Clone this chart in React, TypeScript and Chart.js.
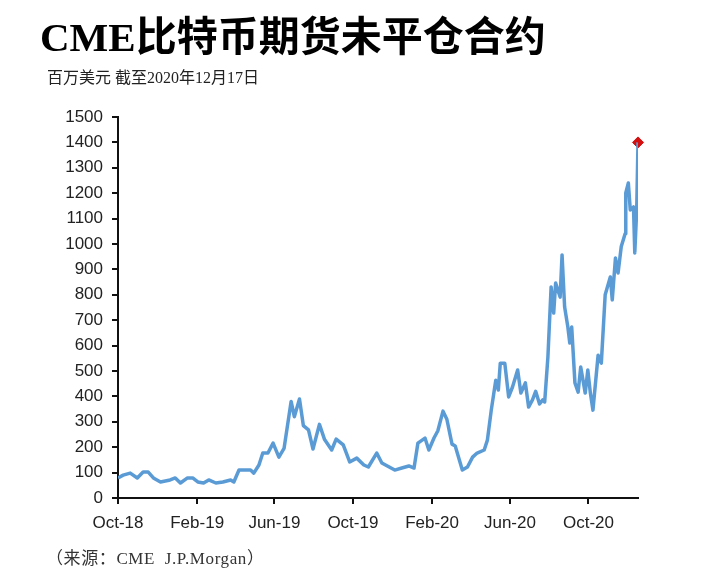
import React, { useEffect, useRef } from "react";
import { Chart, registerables } from "chart.js";

Chart.register(...registerables);

const TITLE = "CME比特币期货未平仓合约";
const SUBTITLE = "百万美元 截至2020年12月17日";
const SOURCE = "（来源：CME  J.P.Morgan）";

const START_DATE = "2018-10-01";
const END_DATE = "2020-12-17";

const tickDates = ["2018-10-01", "2019-02-01", "2019-06-01", "2019-10-01", "2020-02-01", "2020-06-01", "2020-10-01"];
const tickLabels = ["Oct-18", "Feb-19", "Jun-19", "Oct-19", "Feb-20", "Jun-20", "Oct-20"];
const yTicks = [0, 100, 200, 300, 400, 500, 600, 700, 800, 900, 1000, 1100, 1200, 1300, 1400, 1500];

const dates = [
  "2018-10-01", "2018-10-09", "2018-10-20", "2018-10-31", "2018-11-09", "2018-11-17", "2018-11-25",
  "2018-12-06", "2018-12-21", "2018-12-29", "2019-01-06", "2019-01-17", "2019-01-25", "2019-02-02",
  "2019-02-11", "2019-02-19", "2019-03-02", "2019-03-13", "2019-03-25", "2019-03-30", "2019-04-07",
  "2019-04-18", "2019-04-25", "2019-04-30", "2019-05-08", "2019-05-14", "2019-05-22", "2019-05-30",
  "2019-06-08", "2019-06-16", "2019-06-27", "2019-07-02", "2019-07-10", "2019-07-16", "2019-07-24",
  "2019-07-31", "2019-08-10", "2019-08-18", "2019-08-29", "2019-09-05", "2019-09-16", "2019-09-26",
  "2019-10-07", "2019-10-18", "2019-10-25", "2019-11-07", "2019-11-15", "2019-12-05", "2019-12-16",
  "2019-12-27", "2020-01-04", "2020-01-10", "2020-01-21", "2020-01-27", "2020-02-04", "2020-02-10",
  "2020-02-18", "2020-02-24", "2020-03-03", "2020-03-08", "2020-03-19", "2020-03-27", "2020-04-04",
  "2020-04-11", "2020-04-22", "2020-04-27", "2020-05-03", "2020-05-10", "2020-05-14", "2020-05-17",
  "2020-05-24", "2020-05-30", "2020-06-05", "2020-06-13", "2020-06-18", "2020-06-25", "2020-06-30",
  "2020-07-06", "2020-07-11", "2020-07-17", "2020-07-22", "2020-07-25", "2020-07-30", "2020-08-04",
  "2020-08-08", "2020-08-11", "2020-08-18", "2020-08-21", "2020-08-25", "2020-08-30", "2020-09-02",
  "2020-09-05", "2020-09-10", "2020-09-15", "2020-09-19", "2020-09-26", "2020-09-30", "2020-10-04",
  "2020-10-08", "2020-10-16", "2020-10-21", "2020-10-27", "2020-11-04", "2020-11-07", "2020-11-12",
  "2020-11-16", "2020-11-21", "2020-11-27", "2020-11-28", "2020-12-02", "2020-12-05", "2020-12-10",
  "2020-12-12", "2020-12-15", "2020-12-17",
];

const openInterest = [
  79, 90, 98, 79, 102, 102, 79,
  63, 71, 79, 59, 79, 79, 63,
  59, 71, 59, 63, 71, 63, 110,
  110, 110, 98, 130, 177, 177, 216,
  161, 195, 380, 320, 390, 285, 268,
  193, 290, 230, 189, 232, 209, 142,
  157, 130, 122, 177, 138, 110, 118,
  126, 118, 216, 236, 189, 236, 265,
  342, 310, 212, 205, 110, 122, 161,
  177, 189, 228, 346, 464, 425, 531,
  531, 398, 437, 504, 413, 453, 358,
  386, 420, 370, 386, 378, 555, 831,
  728, 846, 791, 957, 752, 673, 610,
  673, 453, 417, 516, 413, 504, 413,
  346, 562, 531, 800, 870, 780, 945,
  886, 990, 1040, 1201, 1240, 1134, 1146,
  965, 1134, 1400,
];

const DAY = 86400000;
const dayOf = (d: string) => Math.round((Date.parse(d) - Date.parse(START_DATE)) / DAY);

export default function App() {
  const ref = useRef<HTMLCanvasElement>(null);

  useEffect(() => {
    const ctx = ref.current!.getContext("2d")!;
    const pts = dates.map((d, i) => ({ x: dayOf(d), y: openInterest[i] }));
    const last = pts[pts.length - 1];
    const tickVals = tickDates.map(dayOf);
    const chart = new Chart(ctx, {
      type: "line",
      data: {
        datasets: [
          {
            data: pts,
            borderColor: "#5b9bd5",
            borderWidth: 3.5,
            pointRadius: 0,
            tension: 0,
            borderJoinStyle: "round",
          },
          {
            data: [last],
            borderColor: "#d40f0f",
            backgroundColor: "#d40f0f",
            pointStyle: "rectRot",
            pointRadius: 5.5,
            showLine: false,
            clip: false,
          },
        ],
      },
      options: {
        animation: false,
        responsive: false,
        events: [],
        layout: { padding: { top: 117, bottom: 40, left: 0, right: 69 } },
        plugins: { legend: { display: false }, tooltip: { enabled: false }, title: { display: false } },
        scales: {
          x: {
            type: "linear",
            min: 0,
            max: dayOf(END_DATE),
            afterBuildTicks: (s: any) => {
              s.ticks = tickVals.map((v) => ({ value: v }));
            },
            afterFit: (s: any) => {
              s.height = 46;
            },
            ticks: {
              autoSkip: false,
              maxRotation: 0,
              padding: 9,
              color: "#222",
              font: { family: "Liberation Sans, Arial, sans-serif", size: 17 },
              callback: (v: any) => {
                const i = tickVals.indexOf(v);
                return i >= 0 ? tickLabels[i] : "";
              },
            },
            grid: { drawOnChartArea: false, drawTicks: true, tickLength: 6, color: "#111", lineWidth: 2 },
            border: { display: true, color: "#111", width: 2 },
          },
          y: {
            min: 0,
            max: 1500,
            afterBuildTicks: (s: any) => {
              s.ticks = yTicks.map((v) => ({ value: v }));
            },
            afterFit: (s: any) => {
              s.width = 118;
            },
            ticks: {
              padding: 9,
              color: "#222",
              font: { family: "Liberation Sans, Arial, sans-serif", size: 17 },
              callback: (v: any) => String(v),
            },
            grid: { drawOnChartArea: false, drawTicks: true, tickLength: 6, color: "#111", lineWidth: 2 },
            border: { display: true, color: "#111", width: 2 },
          },
        },
      },
    });
    return () => chart.destroy();
  }, []);

  return (
    <div style={{ position: "fixed", left: 0, top: 0, width: 707, height: 584, background: "#fff", overflow: "hidden" }}>
      <canvas ref={ref} width={707} height={584} style={{ position: "absolute", left: 0, top: 0 }} />
      <div
        style={{
          position: "absolute",
          left: 40,
          top: 12,
          fontFamily: "'Liberation Serif', 'Noto Sans CJK SC', serif",
          fontWeight: 700,
          fontSize: 41,
          lineHeight: "50px",
          color: "#000",
          whiteSpace: "nowrap",
        }}
      >
        {TITLE}
      </div>
      <div
        style={{
          position: "absolute",
          left: 47,
          top: 68,
          fontFamily: "'Liberation Serif', 'Noto Sans CJK SC', serif",
          fontSize: 16,
          lineHeight: "20px",
          color: "#222",
          whiteSpace: "nowrap",
        }}
      >
        {SUBTITLE}
      </div>
      <div
        style={{
          position: "absolute",
          left: 46,
          top: 548,
          fontFamily: "'Liberation Serif', 'Noto Sans CJK SC', serif",
          fontSize: 17,
          letterSpacing: 0.6,
          lineHeight: "22px",
          color: "#333",
          whiteSpace: "pre",
        }}
      >
        {SOURCE}
      </div>
    </div>
  );
}
